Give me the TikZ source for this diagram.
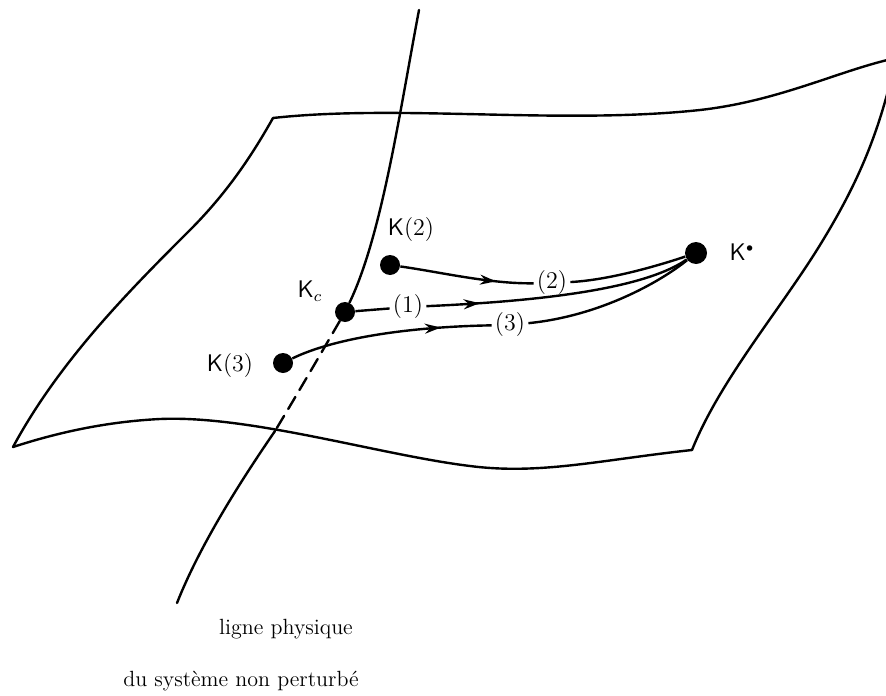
\documentclass[tikz,border=0pt]{standalone}
\usetikzlibrary{decorations.markings,arrows.meta}
\begin{document}
\begin{tikzpicture}[x=0.5pt,y=-0.5pt,
  edge/.style={line width=1.2pt, line join=round, line cap=round},
  conn/.style={line width=1.2pt},
  dot/.style={circle, fill=black, inner sep=0pt, minimum size=10pt},
  lab/.style={font=\large, inner sep=1pt},
  numlab/.style={font=\large, fill=white, inner sep=1.5pt},
  arrowat/.style={postaction={decorate}, decoration={markings, mark=at position #1 with {\arrow{Stealth[length=8pt,width=5pt]}}}},
  txt/.style={font=\fontsize{11}{13}\selectfont, anchor=base}]
\useasboundingbox (0,0) rectangle (886,695);
\clip (0,0) rectangle (886,695);
% sheet corners
\coordinate (tl) at (273,118);
\coordinate (tr) at (896,58);
\coordinate (br) at (692,450);
\coordinate (bl) at (13,447);
\draw[edge] (tl) .. controls (400,104) and (560,125) .. (700,110)
  .. controls (780,101) and (840,70) .. (tr);
\draw[edge] (tr) .. controls (880,130) and (860,180) .. (820,245)
  .. controls (780,310) and (720,380) .. (br);
\draw[edge] (br) .. controls (600,460) and (540,475) .. (470,466)
  .. controls (380,455) and (250,415) .. (160,419)
  .. controls (100,422) and (50,435) .. (bl);
\draw[edge] (bl) .. controls (60,360) and (130,290) .. (190,230)
  .. controls (230,190) and (255,150) .. (tl);
% points
\node[dot] (k2) at (390,265) {};
\node[dot] (kc) at (345,312) {};
\node[dot] (k3) at (283,363) {};
\node[dot, minimum size=11pt] (ks) at (696,253) {};
% physical line
\coordinate (ptop) at (419,10);
\coordinate (cross) at (275,431);
\coordinate (pbot) at (177,603);
\draw[edge] (ptop) .. controls (400,110) and (382,235) .. (kc);
\draw[edge, dash pattern=on 7pt off 4pt] (kc) .. controls (320,355) and (295,398) .. (cross);
\draw[edge] (cross) .. controls (240,482) and (200,545) .. (pbot);
% labels
\node[lab] (lk2) at (411,230) {\textsf{K}(2)};
\node[lab] (lkc) at (310,291) {\textsf{K}$_c$};
\node[lab] (lk3) at (230,366) {\textsf{K}(3)};
\node[lab] (lks) at (742,252) {\textsf{K}$^{\scriptscriptstyle\bullet}$};
% label nodes on curves
\node[numlab] (l2) at (552,283) {(2)};
\node[numlab] (l1) at (408,307) {(1)};
\node[numlab] (l3) at (510,325) {(3)};
% connectors
\draw[conn, arrowat=0.72] (k2) .. controls (440,272) and (490,284) .. (l2);
\draw[conn] (l2) .. controls (610,280) and (660,265) .. (ks);
\draw[conn] (kc) -- (l1);
\draw[conn, arrowat=0.2] (l1) .. controls (520,302) and (640,292) .. (ks);
\draw[conn, arrowat=0.75] (k3) .. controls (330,340) and (400,327) .. (l3);
\draw[conn] (l3) .. controls (600,316) and (660,282) .. (ks);
% caption
\node[txt] (t1) at (286,634) {ligne physique};
\node[txt] (t2) at (241,686) {du système non perturbé};
\end{tikzpicture}
\end{document}
